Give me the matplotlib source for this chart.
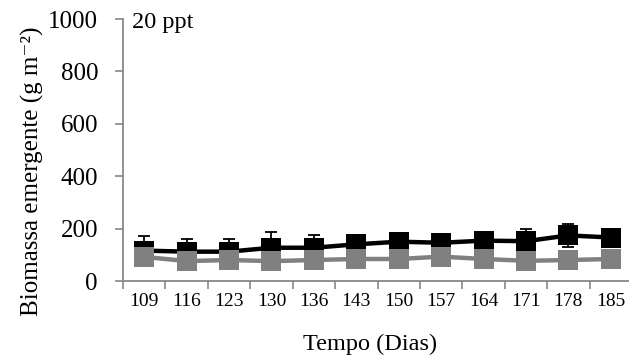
import numpy as np
import matplotlib.pyplot as plt

days = ["109", "116", "123", "130", "136", "143", "150", "157", "164", "171", "178", "185"]
black_vals = [116, 112, 112, 127, 127, 140, 150, 146, 154, 152, 174, 166]
black_err = [55, 49, 48, 61, 48, 12, 10, 12, 12, 45, 45, 20]
gray_vals = [92, 76, 80, 76, 80, 84, 84, 93, 84, 77, 80, 84]
gray_err = [10, 10, 10, 10, 10, 10, 10, 10, 10, 10, 10, 10]

plt.rcParams["font.family"] = ["Liberation Serif", "DejaVu Serif"]

fig = plt.figure(figsize=(6.29, 3.58), dpi=100)
ax = fig.add_axes([123 / 629, 77 / 358, 509 / 629, 262 / 358])

x = np.arange(len(days))

ax.errorbar(x, black_vals, yerr=black_err, fmt="none", ecolor="black",
            elinewidth=1.3, capsize=4, capthick=1.3, zorder=2)
ax.plot(x, black_vals, color="black", lw=3.2, marker="s", ms=15,
        mew=0, zorder=3)
ax.errorbar(x, gray_vals, yerr=gray_err, fmt="none", ecolor="#808080",
            elinewidth=1.3, capsize=4, capthick=1.3, zorder=4)
ax.plot(x, gray_vals, color="#808080", lw=3.2, marker="s", ms=15,
        mew=0, zorder=5)

ax.set_xlim(-0.5, len(days) - 0.5)
ax.set_ylim(0, 1000)
ax.set_yticks(range(0, 1001, 200))
ax.set_xticks(x)
ax.set_xticklabels(days, fontsize=14)
ax.set_xticks(np.arange(-0.5, len(days), 1), minor=True)
ax.tick_params(axis="x", which="major", length=0, pad=9)
ax.tick_params(axis="x", which="minor", length=6, width=1.2, color="#888888")
ax.tick_params(axis="y", length=6, width=1.2, color="#888888", labelsize=18, pad=12)

for s in ["top", "right"]:
    ax.spines[s].set_visible(False)
for s in ["left", "bottom"]:
    ax.spines[s].set_color("#888888")
    ax.spines[s].set_linewidth(1.3)

ax.set_xlabel("Tempo (Dias)", fontsize=17.5)
ax.xaxis.set_label_coords(0.486, -0.2)
fig.text(32 / 629, (358 - 171) / 358, "Biomassa emergente (g m\u207b\u00b2)",
         rotation=90, fontsize=18, ha="center", va="center")
ax.text(0.018, 0.985, "20 ppt", transform=ax.transAxes, fontsize=17.5,
        va="center", ha="left")

fig.savefig("out.png", dpi=100)
